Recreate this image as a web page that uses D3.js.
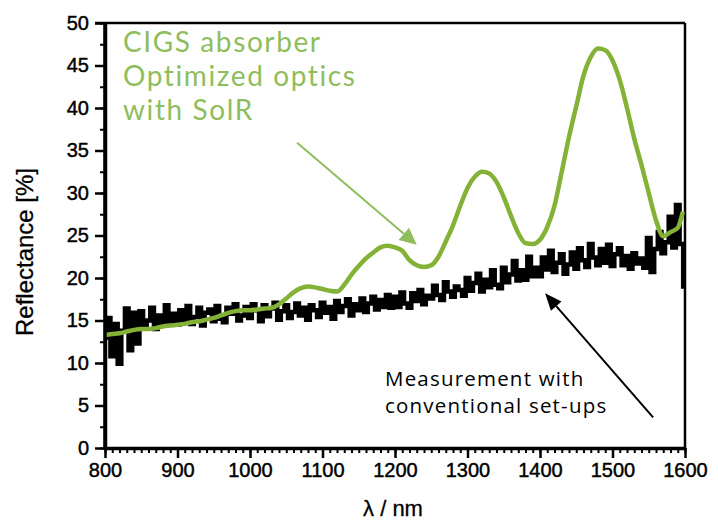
<!DOCTYPE html>
<html><head><meta charset="utf-8">
<script src="https://cdn.jsdelivr.net/npm/d3@7/dist/d3.min.js"></script>
<style>body{margin:0;background:#fff}svg{display:block}</style>
</head><body><svg id="c" width="718" height="520"></svg>
<script>
const xTickValues = [800, 900, 1000, 1100, 1200, 1300, 1400, 1500, 1600];
const yTickValues = [0, 5, 10, 15, 20, 25, 30, 35, 40, 45, 50];
const xLabel = "λ / nm";
const yLabel = "Reflectance [%]";
const greenLabel = ["CIGS absorber", "Optimized optics", "with SolR"];
const blackLabel = ["Measurement with", "conventional set-ups"];

// Optimized optics with SolR (smooth curve)
const solrWl = [800,810,820,830,840,850,860,870,880,890,900,910,920,930,940,950,960,970,980,990,
  1000,1010,1020,1030,1040,1050,1060,1070,1080,1090,1100,1110,1120,1130,1140,1150,1160,1170,1180,1190,
  1200,1210,1220,1230,1240,1250,1260,1270,1280,1290,1300,1310,1320,1330,1340,1350,1360,1370,1380,1390,
  1400,1410,1420,1430,1440,1450,1460,1470,1480,1490,1500,1510,1520,1530,1540,1550,1560,1570,1580,1590,1597];
const solrR = [13.3,13.4,13.5,13.7,13.9,14.0,14.0,14.1,14.3,14.4,14.5,14.6,14.8,14.9,15.1,15.3,15.6,15.9,16.1,16.2,
  16.2,16.3,16.4,16.5,16.9,17.6,18.3,18.8,19.0,18.9,18.7,18.5,18.4,19.2,20.4,21.4,22.3,23.0,23.6,23.8,
  23.6,23.2,22.1,21.5,21.3,21.5,22.5,24.3,26.2,28.5,30.6,31.9,32.5,32.3,31.3,29.5,27.3,25.3,24.1,24.0,
  24.5,26.0,28.5,32.5,36.6,40.2,43.8,46.0,47.0,46.8,45.6,43.3,40.0,36.4,33.3,30.0,26.8,24.9,25.4,25.9,27.8];

// Conventional set-up measurement (noisy), every 5 nm from 800 to 1600
const convR = [
  13.0,15.3,10.8,14.6,9.9,13.8,16.4,11.5,15.9,12.3,
  16.1,14.1,15.0,16.5,14.0,15.6,14.4,16.8,14.6,15.8,
  14.5,16.2,15.1,16.7,14.6,15.4,16.5,14.4,15.9,16.3,
  14.9,16.7,15.2,14.8,16.5,15.8,16.9,15.0,15.6,16.6,
  15.3,16.9,16.2,14.9,16.8,15.5,16.4,17.1,15.1,16.1,
  16.8,15.3,16.0,17.0,15.6,16.5,15.1,16.8,16.2,15.4,
  17.1,15.9,16.6,15.2,17.3,16.0,16.7,17.5,15.6,16.9,
  16.2,17.6,16.0,17.0,17.8,16.3,17.4,16.6,18.0,16.5,
  17.8,16.6,18.3,17.0,16.5,18.2,17.3,18.6,16.9,17.9,
  17.6,19.1,18.0,17.4,19.5,18.4,17.8,19.0,18.6,17.9,
  20.0,18.5,19.4,20.5,18.4,19.8,18.9,20.9,19.2,18.8,
  21.2,19.5,20.4,22.0,19.7,20.9,19.8,22.5,20.2,21.2,
  20.2,22.4,21.0,23.2,20.7,21.8,22.8,20.5,21.6,23.0,
  21.1,23.5,22.1,21.3,24.0,22.4,21.5,23.4,21.8,23.9,
  21.4,22.8,23.5,21.5,22.6,21.1,22.9,21.7,22.3,21.2,
  24.7,20.7,23.4,25.4,22.9,24.2,27.2,23.6,28.6,24.0,
  19.0];
const convWl = d3.range(800, 1601, 5);

const W = 718, H = 520;
const m = {left: 105, top: 23, right: 33, bottom: 72};
const svg = d3.select("#c");
const x = d3.scaleLinear().domain([800, 1600]).range([m.left, W - m.right]);
const y = d3.scaleLinear().domain([0, 50]).range([H - m.bottom, m.top]);

const tickFont = "Liberation Sans, Arial, sans-serif";
const green = "#83b237";
const greenText = "#8fbd5c";

// frame top & right
svg.append("line").attr("x1", m.left - 10).attr("x2", x(1600)).attr("y1", y(50)).attr("y2", y(50))
  .attr("stroke", "#000").attr("stroke-width", 2.5);
svg.append("line").attr("x1", x(1600)).attr("x2", x(1600)).attr("y1", y(50)).attr("y2", y(0))
  .attr("stroke", "#000").attr("stroke-width", 2.5);

// minor ticks
const gxMinor = svg.append("g").attr("transform", `translate(0,${y(0)})`)
  .call(d3.axisBottom(x).tickValues(d3.range(800, 1601, 10)).tickSize(5).tickFormat(""));
const gyMinor = svg.append("g").attr("transform", `translate(${m.left},0)`)
  .call(d3.axisLeft(y).tickValues(d3.range(0, 50.1, 2.5)).tickSize(5).tickFormat(""));
[gxMinor, gyMinor].forEach(g => { g.select(".domain").remove(); g.selectAll("line").attr("stroke-width", 2); });

// major axes
const gx = svg.append("g").attr("transform", `translate(0,${y(0)})`)
  .call(d3.axisBottom(x).tickValues(xTickValues).tickSize(10).tickPadding(5).tickSizeOuter(0).tickFormat(d3.format("d")));
const gy = svg.append("g").attr("transform", `translate(${m.left},0)`)
  .call(d3.axisLeft(y).tickValues(yTickValues).tickSize(10).tickPadding(6).tickSizeOuter(0));
[gx, gy].forEach(g => {
  g.select(".domain").attr("stroke-width", 3.5);
  g.selectAll(".tick line").attr("stroke-width", 2.5);
  g.selectAll("text").attr("font-family", tickFont).attr("font-size", 20).attr("fill", "#000")
    .attr("stroke", "#000").attr("stroke-width", 0.45);
});

// black noisy measurement
svg.append("path").datum(convWl.map((w, i) => [w, convR[i]]))
  .attr("fill", "none").attr("stroke", "#000").attr("stroke-width", 4.5)
  .attr("stroke-linejoin", "miter")
  .attr("d", d3.line().x(d => x(d[0])).y(d => y(d[1])).curve(d3.curveStep));

// green SolR curve
svg.append("path").datum(solrWl.map((w, i) => [w, solrR[i]]))
  .attr("fill", "none").attr("stroke", green).attr("stroke-width", 4.5)
  .attr("stroke-linejoin", "round")
  .attr("d", d3.line().x(d => x(d[0])).y(d => y(d[1])).curve(d3.curveMonotoneX));

// redraw left axis line on top
svg.append("line").attr("x1", m.left).attr("x2", m.left).attr("y1", y(50)).attr("y2", y(0) + 1.5)
  .attr("stroke", "#000").attr("stroke-width", 3.5);

// axis titles
svg.append("text").attr("x", 393).attr("y", 516).attr("text-anchor", "middle")
  .attr("font-family", tickFont).attr("font-size", 22).attr("stroke", "#000").attr("stroke-width", 0.3).text(xLabel);
svg.append("text").attr("transform", "translate(33,252) rotate(-90)").attr("text-anchor", "middle")
  .attr("font-family", tickFont).attr("font-size", 24).attr("stroke", "#000").attr("stroke-width", 0.3).text(yLabel);

// annotations
greenLabel.forEach((t, i) => svg.append("text").attr("x", 123).attr("y", 52 + i * 34)
  .attr("font-family", "Lato, Open Sans, sans-serif").attr("font-size", 28).attr("letter-spacing", 1.6)
  .attr("fill", greenText).text(t));
blackLabel.forEach((t, i) => svg.append("text").attr("x", 385).attr("y", 386 + i * 27)
  .attr("font-family", "Open Sans, Lato, sans-serif").attr("font-size", 20.5).attr("letter-spacing", 1.2)
  .attr("fill", "#000").text(t));

function arrow(x1, y1, x2, y2, color, width, hl, hw) {
  const a = Math.atan2(y2 - y1, x2 - x1);
  const bx = x2 - hl * Math.cos(a), by = y2 - hl * Math.sin(a);
  svg.append("line").attr("x1", x1).attr("y1", y1).attr("x2", bx).attr("y2", by)
    .attr("stroke", color).attr("stroke-width", width);
  const px = -Math.sin(a) * hw, py = Math.cos(a) * hw;
  svg.append("path").attr("d", `M${x2},${y2}L${bx + px},${by + py}L${bx - px},${by - py}Z`).attr("fill", color);
}
arrow(x(1065), y(35.9), x(1230), y(23.9), greenText, 2, 17, 8);
arrow(x(1556), y(3.6), x(1407), y(18.2), "#000", 2, 17, 7);
</script>
</body></html>
